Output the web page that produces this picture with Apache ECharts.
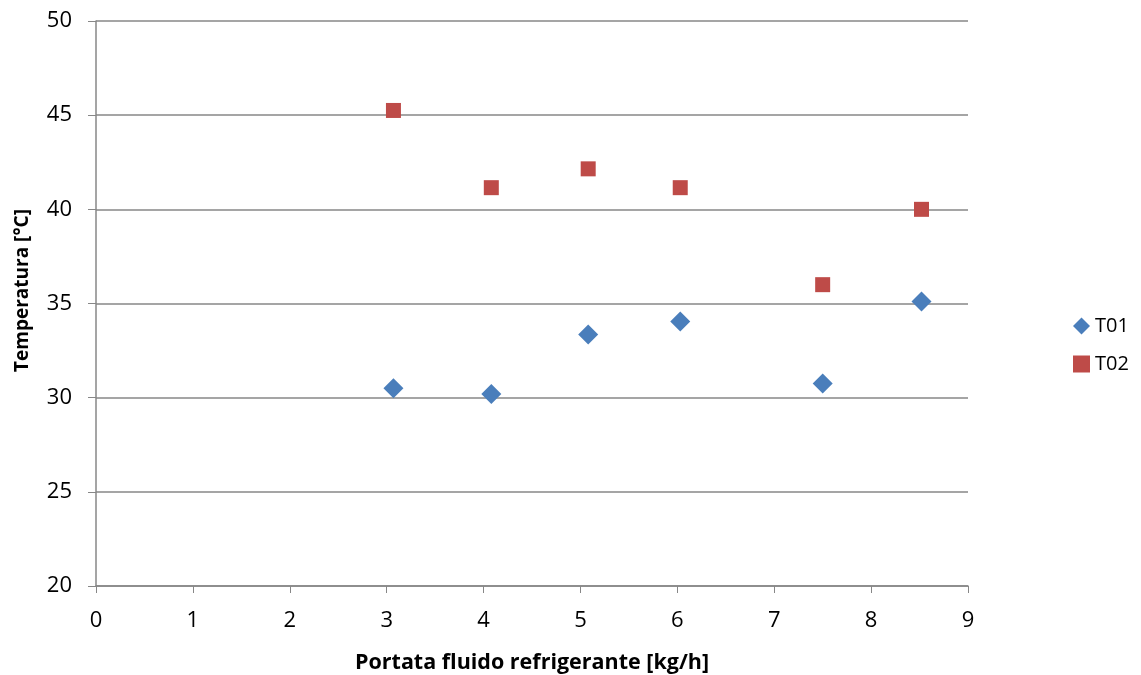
<!DOCTYPE html>
<html><head><meta charset="utf-8">
<script src="https://cdn.jsdelivr.net/npm/echarts@6/dist/echarts.min.js"></script>
<style>html,body{margin:0;padding:0;background:#fff}#c{width:1141px;height:675px}</style>
</head><body><div id="c"></div>
<script>
const xValues = [3.07, 4.08, 5.08, 6.03, 7.5, 8.52];
const t01 = [30.5, 30.2, 33.35, 34.05, 30.75, 35.1];
const t02 = [45.25, 41.15, 42.15, 41.15, 36.0, 40.0];
const seriesNames = ['T01', 'T02'];
const xTitle = 'Portata fluido refrigerante [kg/h]';
const yTitle = 'Temperatura [°C]';

const font = '"Open Sans", sans-serif';
const chart = echarts.init(document.getElementById('c'));
chart.setOption({
  animation: false,
  grid: {left: 96, top: 21, width: 872, height: 565, containLabel: false, outerBoundsMode: 'none'},
  legend: {
    orient: 'vertical', left: 1068, top: 311, itemGap: 18,
    itemWidth: 17, itemHeight: 17,
    textStyle: {fontFamily: font, fontSize: 20, color: '#000'},
    data: [{name: seriesNames[0], icon: 'diamond'}, {name: seriesNames[1], icon: 'rect'}]
  },
  xAxis: {
    type: 'value', min: 0, max: 9, interval: 1,
    name: xTitle, nameLocation: 'middle', nameGap: 66,
    nameTextStyle: {fontFamily: font, fontSize: 21.5, fontWeight: 'bold', color: '#000'},
    axisLine: {show: true, lineStyle: {color: '#878787', width: 1.5}},
    axisTick: {show: true, length: 7, lineStyle: {color: '#878787'}},
    axisLabel: {fontFamily: font, fontSize: 22, color: '#000', margin: 24},
    splitLine: {show: false}
  },
  yAxis: {
    type: 'value', min: 20, max: 50, interval: 5,
    name: yTitle, nameLocation: 'middle', nameGap: 64, nameRotate: 90,
    nameTextStyle: {fontFamily: font, fontSize: 19, fontWeight: 'bold', color: '#000', padding: [0, 0, 0, 26]},
    axisLine: {show: true, lineStyle: {color: '#878787', width: 1.5}},
    axisTick: {show: true, length: 8, lineStyle: {color: '#878787'}},
    axisLabel: {fontFamily: font, fontSize: 22, color: '#000', margin: 24},
    splitLine: {show: true, lineStyle: {color: '#878787', width: 1.5}}
  },
  series: [
    {name: seriesNames[0], type: 'scatter', symbol: 'diamond', symbolSize: 20,
     itemStyle: {color: '#4A7EBB', opacity: 1},
     data: xValues.map((x, i) => [x, t01[i]])},
    {name: seriesNames[1], type: 'scatter', symbol: 'rect', symbolSize: 15,
     itemStyle: {color: '#BE4B48', opacity: 1},
     data: xValues.map((x, i) => [x, t02[i]])}
  ]
});
</script></body></html>
